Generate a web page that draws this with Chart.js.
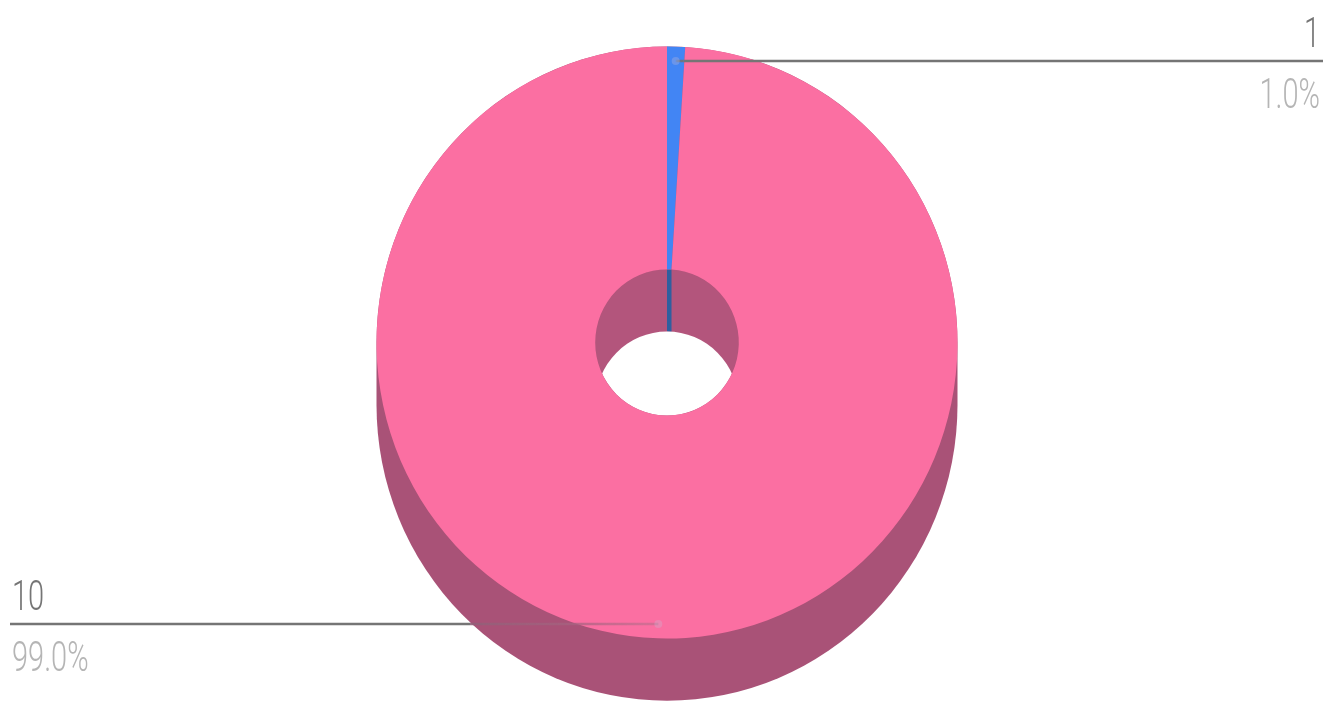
<!DOCTYPE html>
<html>
<head>
<meta charset="utf-8">
<style>
  html, body { margin: 0; padding: 0; background: #fff; overflow: hidden; }
  canvas { display: block; }
</style>
<script src="https://cdn.jsdelivr.net/npm/chart.js@4"></script>
</head>
<body>
<canvas id="pie" width="1335" height="701"></canvas>
<script>
const categories = ['1', '10'];
const shares = [1.0, 99.0];
const shareLabels = ['1.0%', '99.0%'];
const sliceColors = ['#4285f4', '#fb6fa2'];
const wallColors = ['#2f5f9f', '#a95277'];
const holeColor = '#b3557c';

const squash = 1.019;   // source image is a bit taller than wide
const depth = 61;

// extruded side and hole, drawn under the doughnut
const pie3d = {
    id: 'pie3d',
    beforeDatasetsDraw(chart) {
        const ctx = chart.ctx;
        const arcs = chart.getDatasetMeta(0).data;
        const { x, y, outerRadius, innerRadius } = arcs[0];

        ctx.save();
        ctx.translate(x, y);
        ctx.scale(1, squash);
        ctx.translate(-x, -y);

        ctx.fillStyle = wallColors[1];
        ctx.beginPath();
        ctx.arc(x, y + depth, outerRadius, 0, Math.PI);
        ctx.arc(x, y, outerRadius, Math.PI, Math.PI * 2);
        ctx.closePath();
        ctx.fill();

        // see-through part of the hole
        ctx.save();
        ctx.beginPath();
        ctx.arc(x, y, innerRadius, 0, Math.PI * 2);
        ctx.clip();
        ctx.fillStyle = holeColor;
        ctx.fillRect(x - innerRadius, y - innerRadius, innerRadius * 2, innerRadius * 2);

        // inner wall of the small slice
        const a0 = arcs[0].startAngle, a1 = arcs[0].endAngle;
        const x0 = x + Math.cos(a0) * innerRadius, y0 = y + Math.sin(a0) * innerRadius;
        const x1 = x + Math.cos(a1) * innerRadius, y1 = y + Math.sin(a1) * innerRadius;
        ctx.fillStyle = wallColors[0];
        ctx.beginPath();
        ctx.moveTo(x0, y0);
        ctx.lineTo(x1, y1);
        ctx.lineTo(x1, y1 + depth);
        ctx.lineTo(x0, y0 + depth);
        ctx.closePath();
        ctx.fill();

        ctx.fillStyle = '#fff';
        ctx.beginPath();
        ctx.arc(x, y + depth, innerRadius, 0, Math.PI * 2);
        ctx.fill();
        ctx.restore();
        // scale stays on for the slices, undone in afterDatasetsDraw
    },
    afterDatasetsDraw(chart) {
        chart.ctx.restore();
    }
};

// leader lines with the two-row labels
const leaders = {
    id: 'leaders',
    afterDraw(chart) {
        const ctx = chart.ctx;
        const arcs = chart.getDatasetMeta(0).data;
        arcs.forEach((arc, i) => {
            const mid = (arc.startAngle + arc.endAngle) / 2;
            const ax = arc.x + Math.cos(mid) * arc.outerRadius * 0.95;
            const ay = Math.round(arc.y + Math.sin(mid) * arc.outerRadius * 0.95 * squash);
            const right = Math.cos(mid) > 0;
            const endX = right ? 1323 : 10;
            const textX = right ? 1320 : 12;
            const edgeX = right ? ax + 8 : 470;

            ctx.save();
            ctx.filter = 'blur(0.4px)';
            // the line fades where it runs over the pie
            const fade = ctx.createLinearGradient(ax, 0, edgeX, 0);
            fade.addColorStop(0, right ? 'rgba(110,110,110,0.3)' : 'rgba(170,110,135,0.45)');
            fade.addColorStop(0.35, right ? 'rgba(110,110,110,0.6)' : 'rgba(170,100,130,0.7)');
            fade.addColorStop(1, right ? '#757575' : 'rgba(145,95,120,0.9)');
            ctx.strokeStyle = fade;
            ctx.lineWidth = 2.5;
            ctx.beginPath();
            ctx.moveTo(ax, ay);
            ctx.lineTo(edgeX, ay);
            ctx.stroke();
            ctx.strokeStyle = '#757575';
            ctx.beginPath();
            ctx.moveTo(edgeX, ay);
            ctx.lineTo(endX, ay);
            ctx.stroke();

            ctx.fillStyle = 'rgba(200,190,215,0.3)';
            ctx.beginPath();
            ctx.arc(ax, ay, 4, 0, Math.PI * 2);
            ctx.fill();

            ctx.textAlign = right ? 'right' : 'left';
            ctx.textBaseline = 'alphabetic';
            ctx.font = '300 42px Roboto';
            ctx.filter = 'blur(0.6px)';
            ctx.translate(textX, 0);
            ctx.scale(0.69, 1);
            ctx.fillStyle = '#757575';
            ctx.fillText(categories[i], 0, ay - 14);
            ctx.fillStyle = '#b5b5b5';
            ctx.fillText(shareLabels[i], 0, ay + 47);
            ctx.restore();
        });
    }
};

new Chart(document.getElementById('pie'), {
    type: 'doughnut',
    data: {
        labels: categories,
        datasets: [{
            data: shares,
            backgroundColor: sliceColors,
            borderWidth: 0,
            clip: false
        }]
    },
    options: {
        responsive: false,
        animation: false,
        cutout: '24.7%',
        layout: { padding: { top: 52, bottom: 68, left: 0, right: 1 } },
        plugins: {
            legend: { display: false },
            tooltip: { enabled: false }
        }
    },
    plugins: [pie3d, leaders]
});
</script>
</body>
</html>
